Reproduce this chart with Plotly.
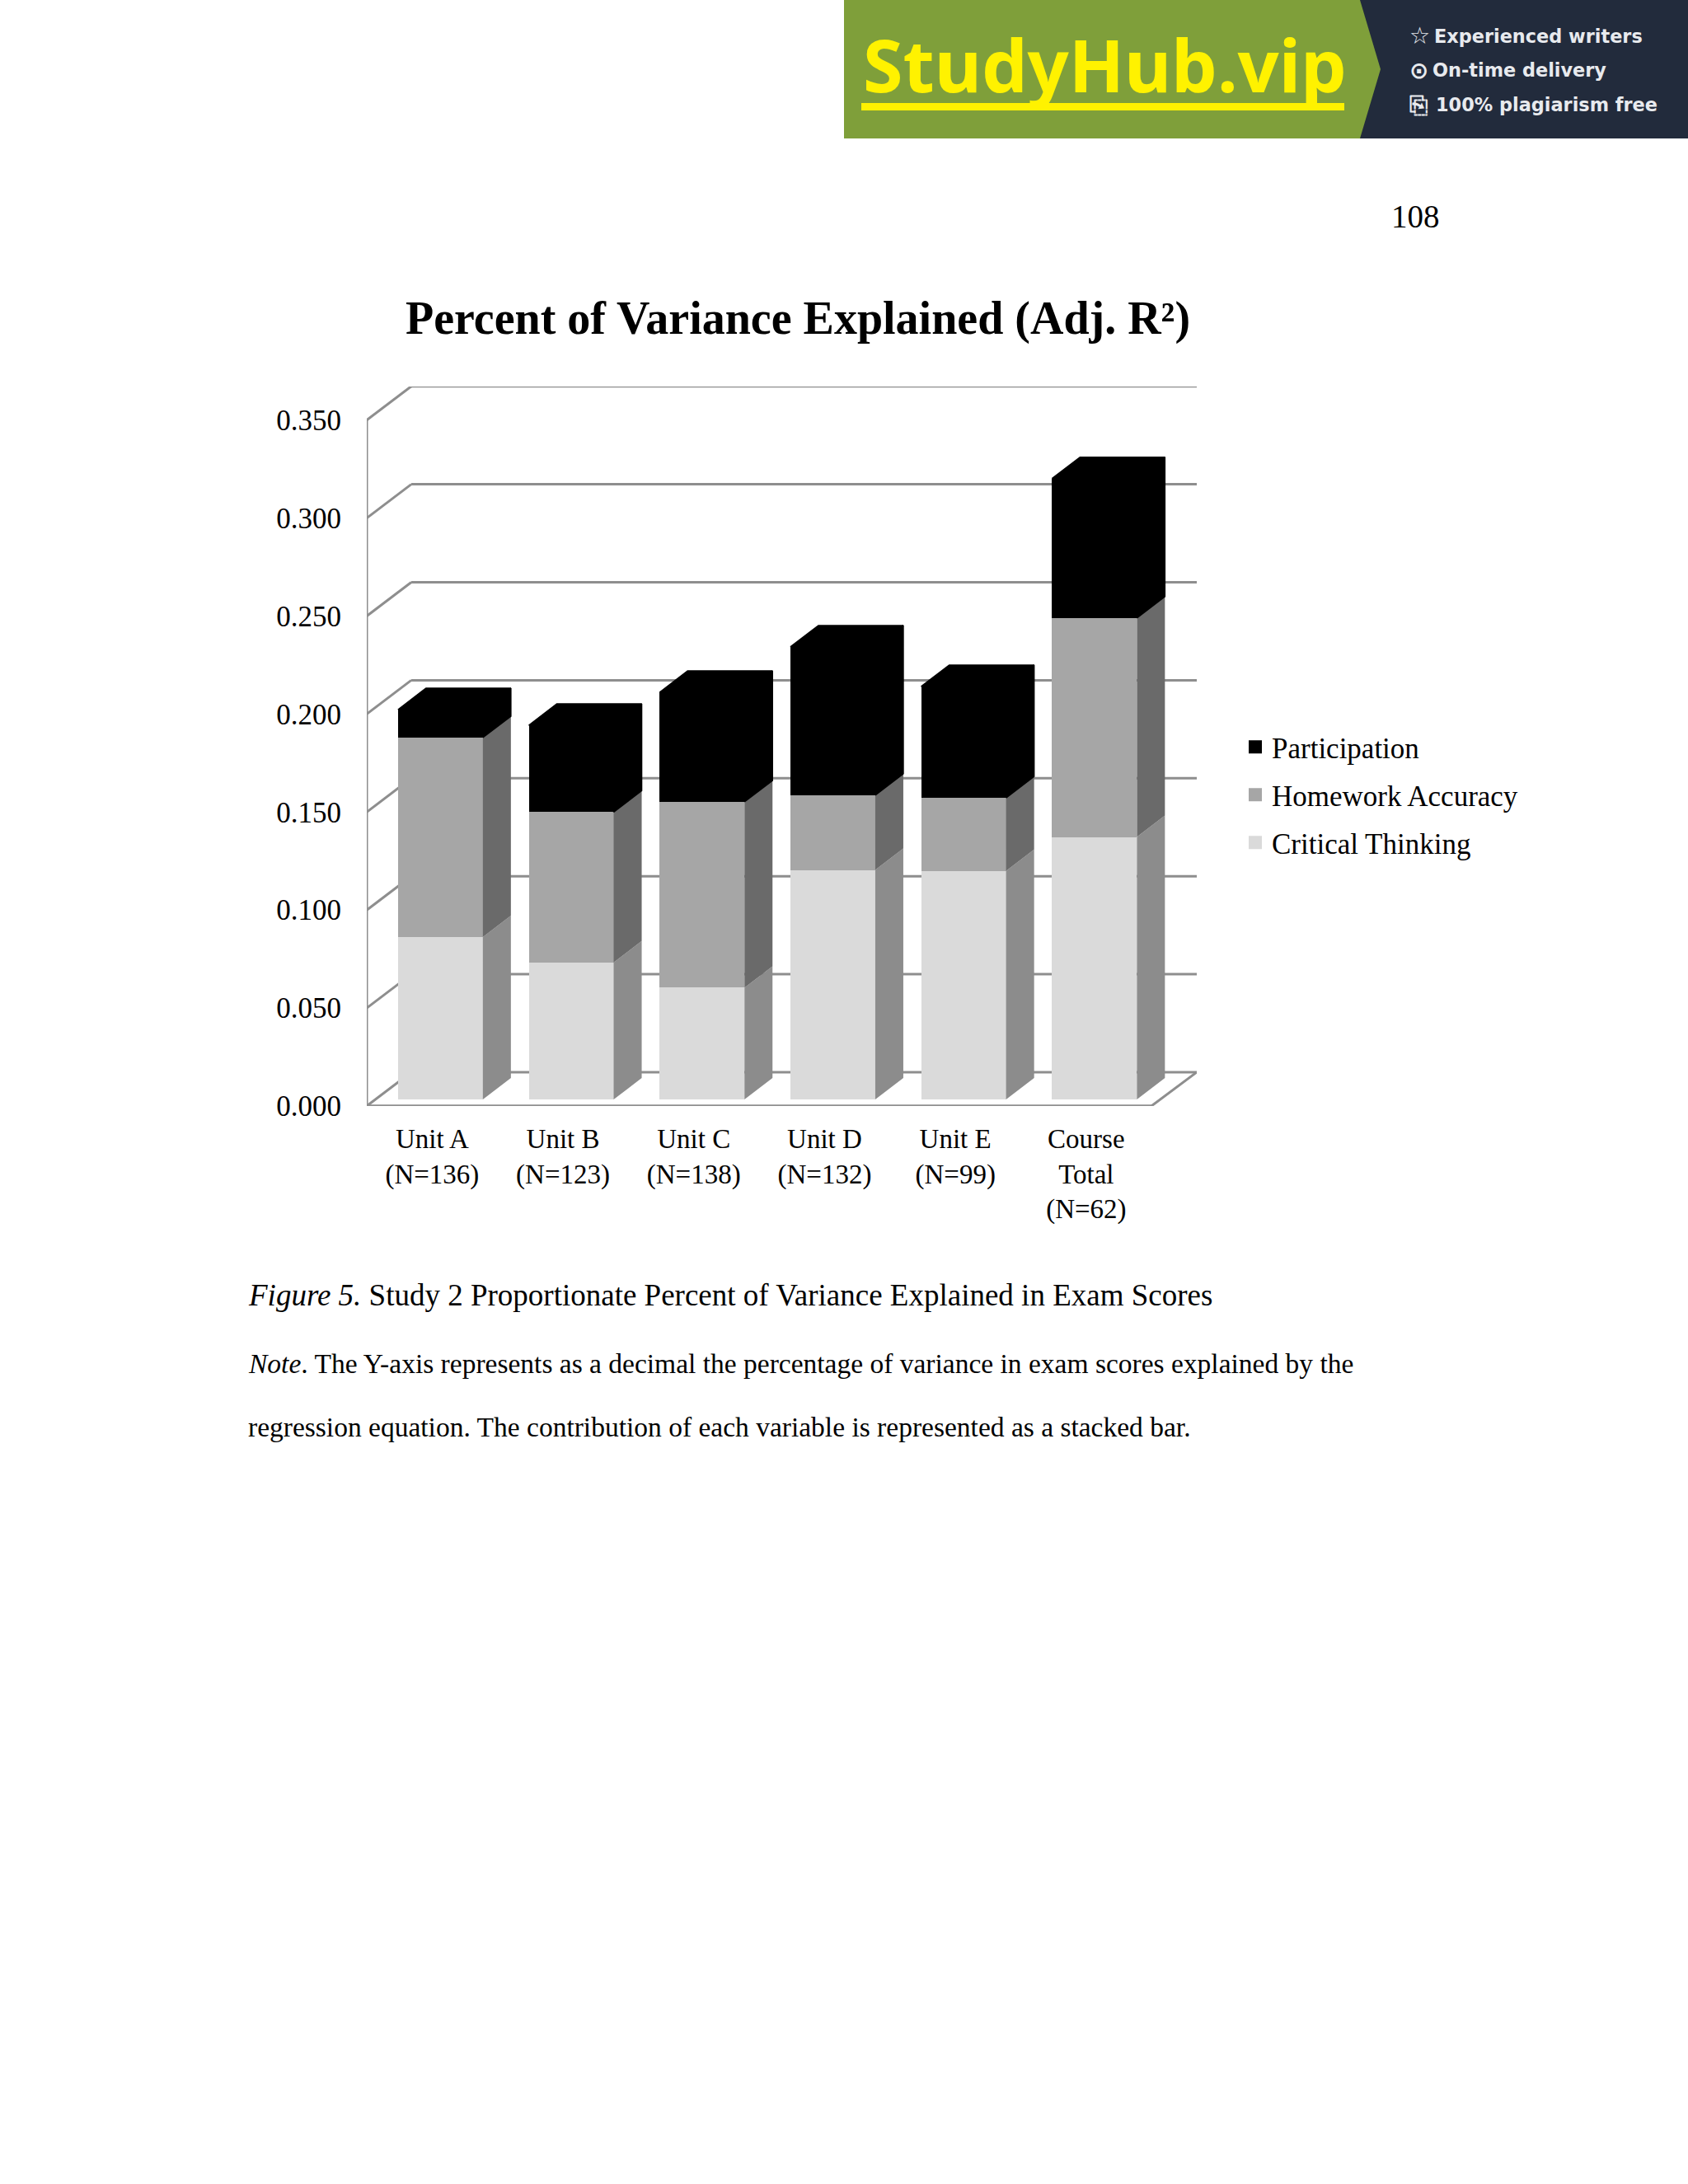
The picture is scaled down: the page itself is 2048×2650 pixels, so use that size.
import plotly.graph_objects as go

# ---------- data ----------
categories = ["Unit A<br>(N=136)", "Unit B<br>(N=123)", "Unit C<br>(N=138)",
              "Unit D<br>(N=132)", "Unit E<br>(N=99)", "Course<br>Total<br>(N=62)"]
critical_thinking = [0.0828, 0.0699, 0.0570, 0.1171, 0.1166, 0.1339]
homework_accuracy = [0.1018, 0.0767, 0.0948, 0.0381, 0.0373, 0.1117]
participation = [0.0143, 0.0443, 0.0559, 0.0757, 0.0568, 0.0712]
y_ticks = [0.0, 0.05, 0.10, 0.15, 0.20, 0.25, 0.30, 0.35]

series_names = ["Critical Thinking", "Homework Accuracy", "Participation"]
front_colors = ["#dadada", "#a6a6a6", "#000000"]
side_colors = ["#8c8c8c", "#6a6a6a", "#000000"]

# ---------- page geometry (pixels) ----------
W, H = 2048, 2650
PL, PR, PT, PB = 445, 1452, 469, 1342
PX_PER_CAT = 158.7
PX_PER_UNIT = 2378.0
X0 = -0.5
X1 = X0 + (PR - PL) / PX_PER_CAT
Y1 = (PB - PT) / PX_PER_UNIT

# perspective offsets in axis units
wall_dx, wall_dy = 54 / PX_PER_CAT, 41 / PX_PER_UNIT
floor_right = X0 + (1397 - PL) / PX_PER_CAT
bar_shift, bar_lift = 10 / PX_PER_CAT, 8 / PX_PER_UNIT
bar_width = 103 / PX_PER_CAT
bar_dx, bar_dy = 34 / PX_PER_CAT, 26 / PX_PER_UNIT

FONT = "Liberation Serif"
GRID = "#8e8e8e"


def fx(px):
    return (px - PL) / (PR - PL)


def fy(py):
    return (PB - py) / (PB - PT)


positions = list(range(len(categories)))
centers = [p + bar_shift for p in positions]
values = [critical_thinking, homework_accuracy, participation]

fig = go.Figure()

# legend entries, top to bottom
for name, col in zip(reversed(series_names), reversed(front_colors)):
    fig.add_trace(go.Scatter(x=[None], y=[None], mode="markers", name=name, legendgroup=name,
                             marker=dict(symbol="square", size=16, color=col,
                                         line=dict(width=0))))

# stacked front faces
running = [bar_lift] * len(positions)
side_polys = []
for name, vals, col, side in zip(series_names, values, front_colors, side_colors):
    fig.add_trace(go.Bar(x=centers, y=vals, base=list(running), width=bar_width,
                         marker=dict(color=col, line=dict(width=0)),
                         name=name, showlegend=False, legendgroup=name))
    xs, ys = [], []
    for c, b, v in zip(centers, running, vals):
        r = c + bar_width / 2
        xs += [r, r + bar_dx, r + bar_dx, r, r, None]
        ys += [b, b + bar_dy, b + v + bar_dy, b + v, b, None]
    side_polys.append((name, xs, ys, side))
    running = [b + v for b, v in zip(running, vals)]

# side faces
for name, xs, ys, side in side_polys:
    fig.add_trace(go.Scatter(x=xs, y=ys, mode="lines", fill="toself", fillcolor=side,
                             line=dict(width=1.5 if side == "#000000" else 0, color=side),
                             hoverinfo="skip", showlegend=False, legendgroup=name))

# top face of each stack
xs, ys = [], []
for c, t in zip(centers, running):
    l, r = c - bar_width / 2, c + bar_width / 2
    xs += [l, l + bar_dx, r + bar_dx, r, l, None]
    ys += [t, t + bar_dy, t + bar_dy, t, t, None]
fig.add_trace(go.Scatter(x=xs, y=ys, mode="lines", fill="toself", fillcolor=front_colors[2],
                         line=dict(width=1.5, color=front_colors[2]), hoverinfo="skip",
                         showlegend=False, legendgroup=series_names[2]))

# walls, floor and gridlines, behind the bars
shapes = []
for v in y_ticks:
    shapes.append(dict(type="line", xref="x", yref="y", layer="below",
                       x0=X0, y0=v, x1=X0 + wall_dx, y1=v + wall_dy,
                       line=dict(color=GRID, width=3)))
    shapes.append(dict(type="line", xref="x", yref="y", layer="below",
                       x0=X0 + wall_dx, y0=v + wall_dy, x1=X1, y1=v + wall_dy,
                       line=dict(color=GRID, width=3)))
shapes.append(dict(type="line", xref="x", yref="y", layer="below",
                   x0=X0, y0=0, x1=X0, y1=y_ticks[-1], line=dict(color=GRID, width=3)))
shapes.append(dict(type="line", xref="x", yref="y", layer="below",
                   x0=X0, y0=0, x1=floor_right, y1=0, line=dict(color=GRID, width=3.5)))
shapes.append(dict(type="line", xref="x", yref="y", layer="below",
                   x0=floor_right, y0=0, x1=X1, y1=wall_dy, line=dict(color=GRID, width=3)))


def rect(x0, y0, x1, y1, color):
    return dict(type="rect", xref="paper", yref="paper", layer="below",
                x0=fx(x0), x1=fx(x1), y0=fy(y0), y1=fy(y1),
                fillcolor=color, line=dict(width=0))


# banner
shapes.append(rect(1024, 0, 1660, 168, "#7f9f3a"))
shapes.append(rect(1650, 0, 2048, 168, "#222b3c"))
shapes.append(dict(type="path", xref="paper", yref="paper", layer="below",
                   path=f"M {fx(1650)} {fy(0)} L {fx(1675)} {fy(84)} L {fx(1650)} {fy(168)} Z",
                   fillcolor="#7f9f3a", line=dict(width=0)))
shapes.append(rect(1045, 125, 1631, 134, "#fff200"))


def note(text, x, y, size, font=FONT, color="#000000", anchor="left"):
    return dict(text=text, xref="paper", yref="paper", x=fx(x), y=fy(y), xanchor=anchor,
                yanchor="middle", showarrow=False, align="left",
                font=dict(family=font, size=size, color=color))


SANS = "DejaVu Sans"
annotations = [
    note("<b>StudyHub.vip</b>", 1045, 78, 88, "Noto Sans", "#fff200"),
    note("<b>☆</b>", 1708, 44, 28, SANS, "#e8eaee"),
    note("<b>Experienced writers</b>", 1738, 44, 22.4, SANS, "#e8eaee"),
    note("<b>⊙</b>", 1708, 85, 28, SANS, "#e8eaee"),
    note("<b>On-time delivery</b>", 1736, 85, 22.4, SANS, "#e8eaee"),
    note("<b>⎘</b>", 1708, 127, 28, SANS, "#e8eaee"),
    note("<b>100% plagiarism free</b>", 1740, 127, 22.4, SANS, "#e8eaee"),
    note("108", 1717, 263, 39, anchor="center"),
    note("<i>Figure 5.</i> Study 2 Proportionate Percent of Variance Explained in Exam Scores",
         299, 1571, 37),
    note("<i>Note</i>. The Y-axis represents as a decimal the percentage of variance in exam "
         "scores explained by the", 299, 1654, 33.5),
    note("regression equation. The contribution of each variable is represented as a stacked bar.",
         299, 1731, 33.5),
]

fig.update_layout(
    width=W, height=H,
    margin=dict(l=PL, r=W - PR, t=PT, b=H - PB, pad=0, autoexpand=False),
    paper_bgcolor="#ffffff", plot_bgcolor="rgba(0,0,0,0)",
    barmode="overlay", bargap=0,
    font=dict(family=FONT, size=34, color="#000000"),
    title=dict(text="<b>Percent of Variance Explained (Adj. R²)</b>",
               xref="container", yref="container", x=968 / W, y=1 - 385 / H,
               xanchor="center", yanchor="middle", font=dict(family=FONT, size=56)),
    xaxis=dict(range=[X0, X1], tickmode="array", tickvals=positions, ticktext=categories,
               showgrid=False, zeroline=False, showline=False, ticks="outside", ticklen=10,
               tickcolor="rgba(0,0,0,0)", tickangle=0, tickfont=dict(family=FONT, size=33)),
    yaxis=dict(range=[0, Y1], tickmode="array", tickvals=y_ticks, tickformat=".3f",
               showgrid=False, zeroline=False, showline=False, ticks="outside", ticklen=23,
               tickcolor="rgba(0,0,0,0)", tickfont=dict(family=FONT, size=35)),
    legend=dict(x=fx(1503), y=fy(877), xanchor="left", yanchor="top",
                traceorder="grouped",
                bgcolor="rgba(0,0,0,0)", font=dict(family=FONT, size=35),
                tracegroupgap=9.5, itemwidth=30, itemsizing="trace"),
    shapes=shapes, annotations=annotations,
)

fig.write_html("out.html", config={"displayModeBar": False},
               post_script="document.body.style.margin='0';")
